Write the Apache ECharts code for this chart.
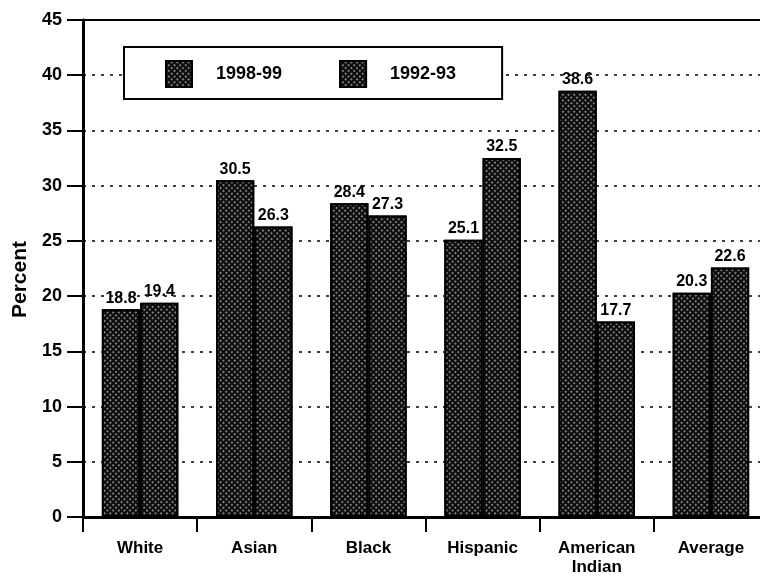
<!DOCTYPE html>
<html>
<head>
<meta charset="utf-8">
<script src="https://cdn.jsdelivr.net/npm/echarts@6/dist/echarts.min.js"></script>
<style>
  html, body { margin: 0; padding: 0; background: #fff; }
  #chart { width: 760px; height: 582px; }
</style>
</head>
<body>
<div id="chart"></div>
<script>
// Groups along the x axis
const categories = ['White', 'Asian', 'Black', 'Hispanic', 'American\nIndian', 'Average'];
// Percent values per school year
const values9899 = [18.8, 30.5, 28.4, 25.1, 38.6, 20.3];
const values9293 = [19.4, 26.3, 27.3, 32.5, 17.7, 22.6];
const seriesNames = ['1998-99', '1992-93'];
const yTicks = [0, 5, 10, 15, 20, 25, 30, 35, 40, 45];

const FONT = '"Liberation Sans", Arial, sans-serif';

// Stippled fill for the bars: white dots on a near-black ground
const stipple = {
  symbol: 'rect',
  symbolSize: 1,
  dashArrayX: [1.5, 1.5],
  dashArrayY: [1.5, 1.5],
  rotation: Math.PI / 4,
  color: 'rgba(255,255,255,0.45)'
};

function barSeries(name, data) {
  return {
    name: name,
    type: 'bar',
    data: data,
    barGap: '0%',
    barCategoryGap: '33%',
    itemStyle: {
      color: '#0c0c0c',
      borderColor: '#000',
      borderWidth: 2,
      decal: stipple
    },
    label: {
      show: true,
      position: 'top',
      distance: 3,
      color: '#000',
      fontFamily: FONT,
      fontWeight: 'bold',
      fontSize: 16,
      formatter: p => p.value.toFixed(1)
    }
  };
}

const chart = echarts.init(document.getElementById('chart'), null, { renderer: 'canvas' });
chart.setOption({
  animation: false,
  backgroundColor: '#fff',
  grid: {
    left: 83, width: 685, top: 20, bottom: 65,
    outerBoundsMode: 'none',
    containLabel: false,
    show: true, borderColor: '#000', borderWidth: 2
  },
  legend: {
    left: 124, top: 47,
    padding: [13, 46, 11, 41],
    backgroundColor: '#fff',
    borderColor: '#000', borderWidth: 2,
    itemWidth: 26, itemHeight: 26, itemGap: 57,
    icon: 'rect',
    textStyle: {
      fontFamily: FONT, fontWeight: 'bold', fontSize: 18, color: '#000',
      padding: [0, 0, 0, 19]
    },
    data: seriesNames
  },
  xAxis: {
    type: 'category',
    data: categories,
    axisLine: { show: true, lineStyle: { color: '#000', width: 3 } },
    axisTick: { show: true, alignWithLabel: false, length: 15, lineStyle: { color: '#000', width: 2 } },
    axisLabel: {
      color: '#000', fontFamily: FONT, fontWeight: 'bold', fontSize: 17,
      margin: 22, lineHeight: 19
    }
  },
  yAxis: {
    type: 'value',
    min: yTicks[0], max: yTicks[yTicks.length - 1], interval: 5,
    name: 'Percent',
    nameLocation: 'middle',
    nameRotate: 90,
    nameGap: 52,
    nameTextStyle: {
      color: '#000', fontFamily: FONT, fontWeight: 'bold', fontSize: 21,
      padding: [0, 22, 0, 0]
    },
    axisLine: { show: true, lineStyle: { color: '#000', width: 3 } },
    axisTick: { show: true, length: 16, lineStyle: { color: '#000', width: 2 } },
    axisLabel: {
      color: '#000', fontFamily: FONT, fontWeight: 'bold', fontSize: 18, margin: 21
    },
    splitLine: { show: true, lineStyle: { color: '#000', width: 1.5, type: [3, 6] } }
  },
  series: [
    barSeries(seriesNames[0], values9899),
    barSeries(seriesNames[1], values9293)
  ]
});
</script>
</body>
</html>
